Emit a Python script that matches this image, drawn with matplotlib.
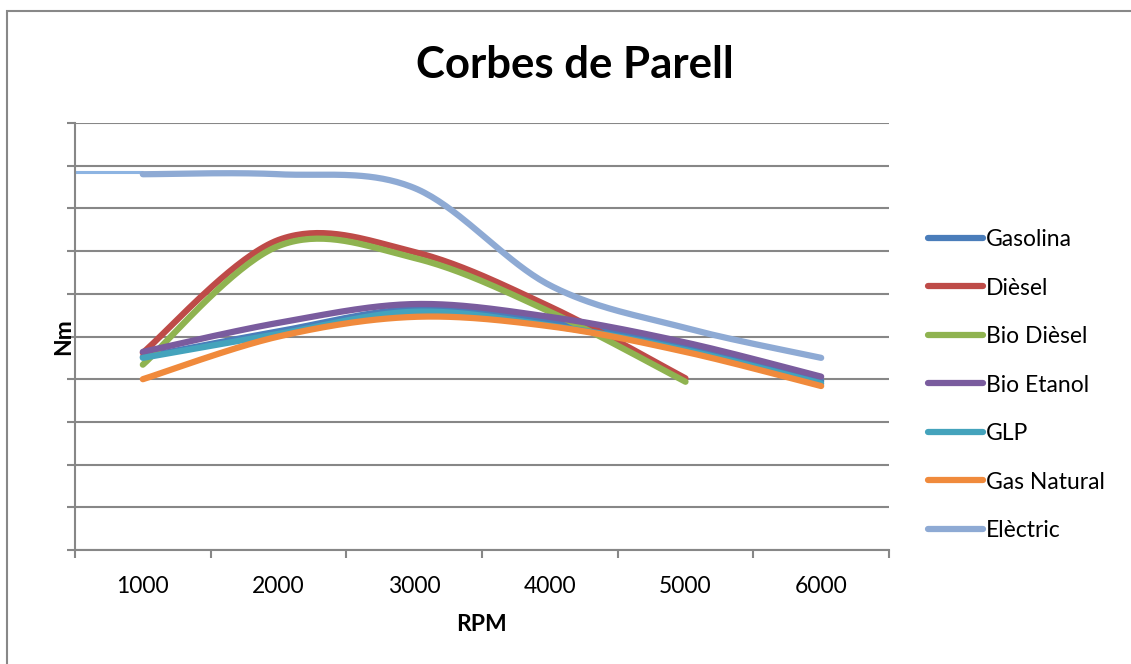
import numpy as np
import matplotlib
matplotlib.use("Agg")
import matplotlib.pyplot as plt
from matplotlib.patches import Rectangle

plt.rcParams['font.family'] = ['Lato', 'DejaVu Sans']

# data (y values; the y axis carries no labels)
rpm = ['1000', '2000', '3000', '4000', '5000', '6000']
gasolina = [226, 256, 282, 267, 238, 198]
diesel = [231, 363, 349, 285, 201]
bio_diesel = [217, 356, 342, 279, 197]
bio_etanol = [232, 266, 288, 273, 243, 203]
glp = [225, 253, 279, 263, 234, 195]
gas_natural = [200, 250, 273, 262, 232, 192]
electric = [440, 440, 424, 310, 260, 225]

series = [
    ('Gasolina', gasolina, '#4A7DBA'),
    ('Dièsel', diesel, '#BE4B48'),
    ('Bio Dièsel', bio_diesel, '#8FB350'),
    ('Bio Etanol', bio_etanol, '#7A5C9E'),
    ('GLP', glp, '#44A3BC'),
    ('Gas Natural', gas_natural, '#F08A3C'),
    ('Elèctric', electric, '#8EAAD4'),
]


def smooth(y, n=40):
    # excel-like smoothed line: catmull-rom bezier between points
    y = np.asarray(y, dtype=float)
    x = np.arange(1, len(y) + 1, dtype=float)
    px = np.concatenate([[x[0]], x, [x[-1]]])
    py = np.concatenate([[y[0]], y, [y[-1]]])
    xs, ys = [], []
    t = np.linspace(0, 1, n)
    for i in range(1, len(px) - 2):
        p0 = np.array([px[i], py[i]])
        p3 = np.array([px[i + 1], py[i + 1]])
        c1 = p0 + (np.array([px[i + 1], py[i + 1]]) - np.array([px[i - 1], py[i - 1]])) / 6
        c2 = p3 - (np.array([px[i + 2], py[i + 2]]) - p0) / 6
        b = ((1 - t) ** 3)[:, None] * p0 + (3 * (1 - t) ** 2 * t)[:, None] * c1 \
            + (3 * (1 - t) * t ** 2)[:, None] * c2 + (t ** 3)[:, None] * p3
        xs.extend(b[:, 0])
        ys.extend(b[:, 1])
    return np.array(xs), np.array(ys)


fig = plt.figure(figsize=(11.31, 6.64), dpi=100)
ax = fig.add_axes([75 / 1131, 114 / 664, 814 / 1131, 427 / 664])

grid_c = '#878787'
fs = 16.5
ax.set_xlim(0.5, len(rpm) + 0.5)
ax.set_ylim(0, 500)
ax.set_yticks(np.arange(0, 501, 50))
ax.set_yticklabels([])
ax.yaxis.grid(True, color=grid_c, linewidth=1.5)
ax.set_axisbelow(True)

ax.set_xticks(np.arange(0.5, len(rpm) + 1, 1))
ax.set_xticklabels([])
ax.set_xticks(np.arange(1, len(rpm) + 1), minor=True)
ax.set_xticklabels(rpm, minor=True, fontsize=fs)
ax.tick_params(axis='x', which='minor', length=0, pad=19)
ax.tick_params(axis='both', which='major', length=6, width=1.5, color=grid_c)

for s in ['top', 'right']:
    ax.spines[s].set_visible(False)
for s in ['left', 'bottom']:
    ax.spines[s].set_color(grid_c)
    ax.spines[s].set_linewidth(1.5)

# lead-in of the electric curve from the axis
ax.plot([0.5, 1], [electric[0] + 3, electric[0] + 3], color='#8DB4E2', lw=2.2,
        solid_capstyle='butt', zorder=2)

for name, vals, col in series:
    xs, ys = smooth(vals)
    ax.plot(xs, ys, color=col, lw=4.5, solid_capstyle='round', label=name, zorder=3)

ax.set_xlabel('RPM', fontsize=fs, fontweight='bold', labelpad=12)
ax.set_ylabel('Nm', fontsize=fs, fontweight='bold', labelpad=-9)

fig.text(0.508, 0.902, 'Corbes de Parell', ha='center', va='center',
         fontsize=31.5, fontweight='bold')

leg = ax.legend(loc='upper left', bbox_to_anchor=(928 / 1131, 1 - 229 / 664),
                bbox_transform=fig.transFigure, frameon=False, fontsize=fs,
                handlelength=2.4, handletextpad=0.12, labelspacing=1.2,
                borderaxespad=0, borderpad=0)
for h in leg.get_lines():
    h.set_linewidth(4.5)
    h.set_solid_capstyle('round')

fig.patches.append(Rectangle((7 / 1131, -0.1), 2, 1.1 - 11 / 664,
                             transform=fig.transFigure, fill=False,
                             edgecolor='#888888', linewidth=1.5))

fig.savefig('out.png', dpi=100)
